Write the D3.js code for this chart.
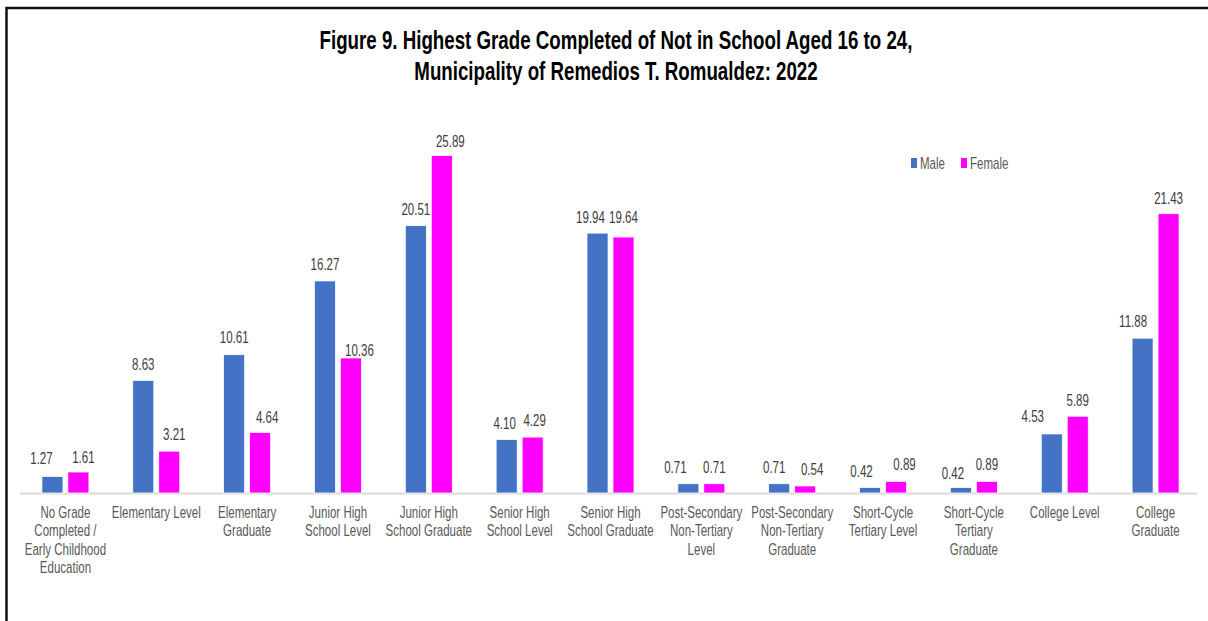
<!DOCTYPE html>
<html>
<head>
<meta charset="utf-8">
<script src="https://cdn.jsdelivr.net/npm/d3@7"></script>
<style>
  body { margin: 0; background: #fff; overflow: hidden; }
  svg { display: block; }
  text { font-family: "Liberation Sans", Arial, sans-serif; }
</style>
</head>
<body>
<svg id="chart" width="1208" height="621"></svg>
<script>
const categories = [
  ["No Grade", "Completed /", "Early Childhood", "Education"],
  ["Elementary Level"],
  ["Elementary", "Graduate"],
  ["Junior High", "School Level"],
  ["Junior High", "School Graduate"],
  ["Senior High", "School Level"],
  ["Senior High", "School Graduate"],
  ["Post-Secondary", "Non-Tertiary", "Level"],
  ["Post-Secondary", "Non-Tertiary", "Graduate"],
  ["Short-Cycle", "Tertiary Level"],
  ["Short-Cycle", "Tertiary", "Graduate"],
  ["College Level"],
  ["College", "Graduate"]
];
const male = [1.27, 8.63, 10.61, 16.27, 20.51, 4.10, 19.94, 0.71, 0.71, 0.42, 0.42, 4.53, 11.88];
const female = [1.61, 3.21, 4.64, 10.36, 25.89, 4.29, 19.64, 0.71, 0.54, 0.89, 0.89, 5.89, 21.43];
const seriesNames = ["Male", "Female"];
const seriesColors = ["#4472C4", "#FF00FF"];
const titleLines = [
  "Figure 9. Highest Grade Completed of Not in School Aged 16 to 24,",
  "Municipality of Remedios T. Romualdez: 2022"
];

// hand-dragged data labels in the original: [male, female] nudges per category
const LABEL_DX = [[-11, 5], [0, 5], [0, 7], [0, 8.5], [0, 8.5], [-2, 2], [-7, 0], [-13, 0],
  [-5, 7], [-8.5, 8.5], [-8, 0], [-19, 0], [-9.5, 0]];
const LABEL_DY = [[-1, 2], [0, 0], [-1, 1], [0, 9.5], [0, 2], [0, 0], [1, -3], [0, 0],
  [0, 0], [0, 0], [2, 0], [-1, 1], [0, 1]];

// the picture is squeezed sideways, so text gets squeezed the same way
const SX = 0.72;
const BASE_Y = 493;
const LABEL_GAP = 11;
const PLOT = { left: 20, right: 1201, top: 102 };

const svg = d3.select("#chart");

// Border (only top and left are in frame)
svg.append("path")
  .attr("d", "M6.5,640 V8 H1230")
  .attr("fill", "none")
  .attr("stroke", "#111")
  .attr("stroke-width", 2.5);

function squeezedText(g, x, y, str) {
  return g.append("text")
    .attr("transform", `translate(${x}, ${y}) scale(${SX}, 1)`)
    .text(str);
}

// Title
const title = svg.append("g")
  .attr("font-size", 26)
  .attr("font-weight", "bold")
  .attr("fill", "#000")
  .attr("text-anchor", "middle");
titleLines.forEach((line, i) => squeezedText(title, 616, 49 + i * 31, line));

// Scales
const keys = categories.map((c) => c.join(" "));
const x0 = d3.scaleBand().domain(keys).range([PLOT.left, PLOT.right]);
const groupW = 47;
const x1 = d3.scaleBand()
  .domain(seriesNames)
  .range([(x0.bandwidth() - groupW) / 2, (x0.bandwidth() + groupW) / 2])
  .paddingInner(0.19);
const y = d3.scaleLinear().domain([0, 30]).range([BASE_Y, PLOT.top]);

const rows = keys.map((k, i) => ({ key: k, idx: i, lines: categories[i], values: [male[i], female[i]] }));

// Axis line
svg.append("line")
  .attr("x1", PLOT.left).attr("x2", 1197)
  .attr("y1", BASE_Y + 0.5).attr("y2", BASE_Y + 0.5)
  .attr("stroke", "#D9D9D9")
  .attr("stroke-width", 2);

// Bars
const groups = svg.append("g")
  .selectAll("g")
  .data(rows)
  .enter()
  .append("g")
  .attr("transform", (d) => `translate(${x0(d.key)}, 0)`);

groups.selectAll("rect")
  .data((d) => d.values.map((v, i) => ({ v, s: seriesNames[i], c: seriesColors[i] })))
  .enter()
  .append("rect")
  .attr("x", (d) => x1(d.s))
  .attr("y", (d) => y(d.v))
  .attr("width", x1.bandwidth())
  .attr("height", (d) => BASE_Y - y(d.v))
  .attr("fill", (d) => d.c)
  .attr("stroke", "#fff")
  .attr("stroke-width", 0.75);

// Value labels
groups.each(function(d) {
  const g = d3.select(this)
    .append("g")
    .attr("font-size", 16)
    .attr("fill", "#404040")
    .attr("text-anchor", "middle");
  d.values.forEach((v, i) => {
    const cx = x1(seriesNames[i]) + x1.bandwidth() / 2 + LABEL_DX[d.idx][i];
    squeezedText(g, cx, y(v) - LABEL_GAP + LABEL_DY[d.idx][i], v.toFixed(2));
  });
});

// Category labels
groups.each(function(d) {
  const g = d3.select(this)
    .append("g")
    .attr("font-size", 16)
    .attr("fill", "#595959")
    .attr("text-anchor", "middle");
  d.lines.forEach((line, i) => {
    squeezedText(g, x0.bandwidth() / 2, 518 + i * 18.3, line);
  });
});

// Legend
const legend = svg.append("g")
  .attr("font-size", 16)
  .attr("fill", "#595959");
const legendX = [911, 961];
seriesNames.forEach((name, i) => {
  legend.append("rect")
    .attr("x", legendX[i]).attr("y", 158)
    .attr("width", 6).attr("height", 10)
    .attr("fill", seriesColors[i]);
  squeezedText(legend, legendX[i] + 9, 169, name);
});
</script>
</body>
</html>
